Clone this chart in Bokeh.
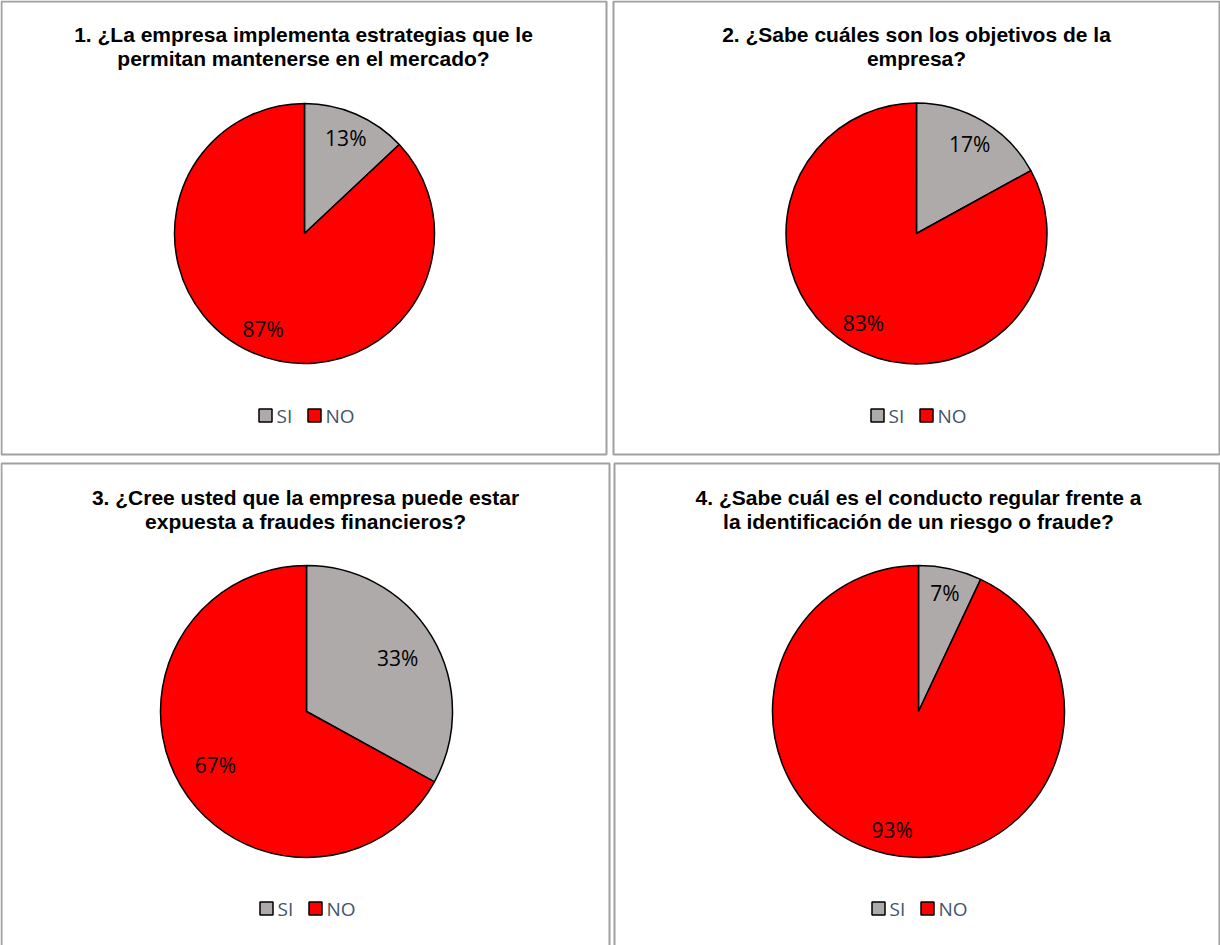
import math
from bokeh.plotting import figure
from bokeh.models import Range1d, ColumnDataSource
from bokeh.core.properties import value
from bokeh.embed import file_html
from bokeh.resources import INLINE

# ---------------- data ----------------
categories = ["SI", "NO"]
titles = [
    ["1. ¿La empresa implementa estrategias que le", "permitan mantenerse en el mercado?"],
    ["2. ¿Sabe cuáles son los objetivos de la", "empresa?"],
    ["3. ¿Cree usted que la empresa puede estar", "expuesta a fraudes financieros?"],
    ["4. ¿Sabe cuál es el conducto regular frente a", "la identificación de un riesgo o fraude?"],
]
si_values = [13, 17, 33, 7]
no_values = [87, 83, 67, 93]

# ---------------- styles / layout ----------------
colors = ["#AEAAAA", "#FF0000"]
W, H = 1220, 945
panel_boxes = [(1, 1, 606, 454), (613, 1, 1219, 454), (1, 463, 609, 960), (614, 463, 1219, 960)]
pie_centers = [(304, 233), (916, 233), (306, 711), (918, 711)]
pie_radii = [130, 130.5, 146, 146]
label_frac = [0.80, 0.80, 0.725, 0.83]
title_x = [303, 916, 305, 918]
title_y = [(34, 58), (34, 58), (497, 521), (497, 521)]
legend_y = [415, 415, 908, 908]
legend_x = [265, 877, 266, 878]
legend_gap = 49

p = figure(width=W, height=H, x_range=Range1d(0, W), y_range=Range1d(0, H),
           output_backend="svg", toolbar_location=None, min_border=0,
           x_axis_location=None, y_axis_location=None)
p.grid.visible = False
p.outline_line_color = None
p.background_fill_color = "white"
p.border_fill_color = "white"

def fy(py):
    return H - py

# panel borders
p.quad(left=[b[0] for b in panel_boxes], right=[b[2] for b in panel_boxes],
       top=[fy(b[1]) for b in panel_boxes], bottom=[fy(b[3]) for b in panel_boxes],
       fill_color="white", line_color="#A0A0A0", line_width=2)

for i in range(4):
    vals = [si_values[i], no_values[i]]
    total = sum(vals)
    cx, cy = pie_centers[i]
    R = pie_radii[i]
    starts, ends, lx, ly, labels = [], [], [], [], []
    cum = 0.0
    for v in vals:
        f0 = cum / total
        cum += v
        f1 = cum / total
        starts.append(math.pi / 2 - 2 * math.pi * f1)
        ends.append(math.pi / 2 - 2 * math.pi * f0)
        mid = 2 * math.pi * (f0 + f1) / 2
        r = R * label_frac[i]
        lx.append(cx + r * math.sin(mid))
        ly.append(fy(cy) + r * math.cos(mid))
        labels.append(f"{v}%")
    src = ColumnDataSource(dict(start=starts, end=ends, color=colors, cat=categories,
                                x=[cx] * 2, y=[fy(cy)] * 2))
    p.wedge(x="x", y="y", radius=R, start_angle="start", end_angle="end",
            fill_color="color", line_color="black", line_width=1.5, source=src)
    p.text(x=lx, y=ly, text=labels, text_font=value("Open Sans"), text_font_size="21px",
           text_color="black", text_align="center", text_baseline="middle")
    # title
    for k, line in enumerate(titles[i]):
        p.text(x=[title_x[i]], y=[fy(title_y[i][k])], text=[line],
               text_font=value("Liberation Sans"), text_font_style="bold",
               text_font_size="21px", text_color="black",
               text_align="center", text_baseline="middle")
    # legend
    sq_x = [legend_x[i] + j * legend_gap for j in range(len(categories))]
    p.rect(x=sq_x, y=[fy(legend_y[i])] * len(categories), width=13, height=13,
           fill_color=colors, line_color="black", line_width=1.5)
    p.text(x=[sx + 11 for sx in sq_x], y=[fy(legend_y[i])] * len(categories), text=categories,
           text_font=value("Open Sans"), text_font_size="19px", text_color="#44546A",
           text_align="left", text_baseline="middle")

open("out.html", "w").write(file_html(p, INLINE))
